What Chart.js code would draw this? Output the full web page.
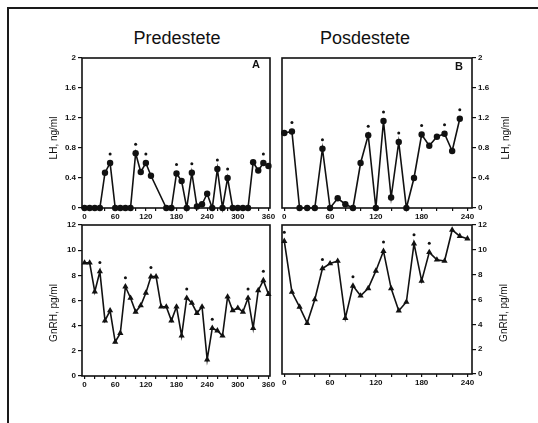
<!DOCTYPE html>
<html>
<head>
<meta charset="utf-8">
<script src="https://cdn.jsdelivr.net/npm/chart.js@4.4.0/dist/chart.umd.min.js"></script>
<style>
body { margin: 0; background: #fff; }
#page { position: relative; width: 538px; height: 423px; overflow: hidden; background: #fff;
        font-family: "Liberation Sans", Arial, sans-serif; color: #111; }
#frame { position: absolute; left: 7px; top: 7px; width: 540px; height: 420px;
         border-top: 2px solid #1a1a1a; border-left: 2px solid #1a1a1a; }
canvas { position: absolute; }
.title { position: absolute; top: 28px; font-size: 18px; transform: translateX(-50%); white-space: nowrap; }
.letter { position: absolute; font-size: 11px; font-weight: bold; }
.ylab { position: absolute; font-size: 10px; white-space: nowrap; transform: translate(-50%, -50%) rotate(-90deg); }
</style>
</head>
<body>
<div id="page">
    <div id="frame"></div>
    <div class="title" style="left:177px">Predestete</div>
    <div class="title" style="left:365px">Posdestete</div>

    <canvas id="lhPreChart" width="250" height="182" style="left:30px;top:48px"></canvas>
    <canvas id="lhPostChart" width="240" height="182" style="left:272px;top:48px"></canvas>
    <canvas id="gnrhPreChart" width="250" height="183" style="left:30px;top:215px"></canvas>
    <canvas id="gnrhPostChart" width="240" height="181" style="left:272px;top:215px"></canvas>

    <div class="letter" style="left:252px;top:58px">A</div>
    <div class="letter" style="left:455px;top:60px">B</div>
    <div class="ylab" style="left:53px;top:138px">LH, ng/ml</div>
    <div class="ylab" style="left:505px;top:138px">LH, ng/ml</div>
    <div class="ylab" style="left:53px;top:313px">GnRH, pg/ml</div>
    <div class="ylab" style="left:503px;top:313px">GnRH, pg/ml</div>
</div>

<script>
(function() {
    'use strict';

    // ===================================
    // Data (minutes / concentrations)
    // ===================================
    const timesPre = [0, 10, 20, 30, 40, 50, 60, 70, 80, 90, 100, 110, 120, 130, 140, 150, 160, 170, 180,
                      190, 200, 210, 220, 230, 240, 250, 260, 270, 280, 290, 300, 310, 320, 330, 340, 350, 360];
    const timesPostLH = [0, 10, 20, 30, 40, 50, 60, 70, 80, 90, 100, 110, 120, 130, 140, 150, 160, 170,
                         180, 190, 200, 210, 220, 230];
    const timesPostGnRH = [0, 10, 20, 30, 40, 50, 60, 70, 80, 90, 100, 110, 120, 130, 140, 150, 160, 170,
                           180, 190, 200, 210, 220, 230, 240];

    // LH, ng/ml (null = no sample)
    const lhPre = [0, 0, 0, 0, 0.47, 0.6, 0, 0, 0, 0, 0.73, 0.48, 0.6, 0.43, null, null, 0, 0, 0.46,
                   0.36, 0, 0.47, 0.02, 0.05, 0.19, 0, 0.52, 0, 0.4, 0, 0, 0, 0, 0.61, 0.5, 0.6, 0.56];
    const lhPost = [1.0, 1.02, 0, 0, 0, 0.79, 0, 0.13, 0.05, 0, 0.6, 0.97, 0, 1.16, 0.14, 0.88, 0, 0.4,
                    0.98, 0.83, 0.95, 0.99, 0.76, 1.19];

    // GnRH, pg/ml
    const gnrhPre = [9.0, 9.0, 6.7, 8.3, 4.4, 5.2, 2.7, 3.4, 7.1, 6.2, 5.1, 5.6, 6.6, 7.9, 7.9, 5.5, 5.5,
                     4.4, 5.5, 3.2, 6.2, 5.8, 5.0, 5.5, 1.3, 3.8, 3.6, 3.2, 6.3, 5.2, 5.4, 5.1, 6.2, 3.8,
                     6.8, 7.6, 6.5];
    const gnrhPost = [10.7, 6.6, 5.4, 4.1, 6.0, 8.5, 8.9, 9.1, 4.5, 7.1, 6.3, 6.9, 8.3, 9.9, 6.9, 5.1,
                      5.8, 10.5, 7.5, 9.8, 9.2, 9.1, 11.6, 11.1, 10.9];

    // Pulses marked with an asterisk (minutes)
    const peaksLhPre = [50, 100, 120, 180, 210, 260, 280, 350];
    const peaksLhPost = [10, 50, 110, 130, 150, 180, 210, 230];
    const peaksGnrhPre = [30, 80, 130, 200, 250, 320, 350];
    const peaksGnrhPost = [0, 50, 90, 130, 170, 190];

    // Tick labels
    const xMinorPre = [0, 20, 40, 60, 80, 100, 120, 140, 160, 180, 200, 220, 240, 260, 280, 300, 320, 340, 360];
    const xLabelsPre = [0, 60, 120, 180, 240, 300, 360];
    const xMinorPost = [0, 20, 40, 60, 80, 100, 120, 140, 160, 180, 200, 220, 240];
    const xLabelsPost = [0, 60, 120, 180, 240];
    const lhTicks = [0, 0.4, 0.8, 1.2, 1.6, 2];
    const gnrhTicks = [0, 2, 4, 6, 8, 10, 12];

    // ===================================
    // Plugins
    // ===================================
    const tickFont = { family: '"Liberation Sans", Arial, sans-serif', size: 8, weight: 'bold' };

    // Frame around the plot area
    const boxPlugin = {
        id: 'box',
        afterDraw(chart) {
            const a = chart.chartArea;
            const ctx = chart.ctx;
            ctx.save();
            ctx.strokeStyle = '#111';
            ctx.lineWidth = 1.6;
            ctx.strokeRect(a.left, a.top, a.right - a.left, a.bottom - a.top);
            ctx.restore();
        }
    };

    // Small asterisk dot above each marked pulse
    const peakPlugin = {
        id: 'peaks',
        afterDatasetsDraw(chart, args, opts) {
            const xs = chart.scales.x;
            const ys = chart.scales.y;
            const data = chart.data.datasets[0].data;
            const ctx = chart.ctx;
            ctx.save();
            ctx.fillStyle = '#111';
            (opts.times || []).forEach(t => {
                const p = data.find(d => d.x === t);
                if (!p || p.y === null) return;
                ctx.beginPath();
                ctx.arc(xs.getPixelForValue(t), ys.getPixelForValue(p.y) - 9, 1.5, 0, Math.PI * 2);
                ctx.fill();
            });
            ctx.restore();
        }
    };

    // ===================================
    // Panel factory
    // ===================================
    function makePanel(canvasId, times, values, cfg) {
        const points = times.map((t, i) => ({ x: t, y: values[i] }));
        return new Chart(document.getElementById(canvasId), {
            type: 'line',
            data: {
                datasets: [{
                    data: points,
                    borderColor: '#111',
                    borderWidth: 1.6,
                    pointStyle: cfg.pointStyle,
                    pointRadius: cfg.pointRadius,
                    pointBackgroundColor: '#111',
                    pointBorderColor: '#111',
                    pointBorderWidth: 0,
                    tension: 0,
                    spanGaps: true,
                    clip: false
                }]
            },
            options: {
                responsive: false,
                animation: false,
                devicePixelRatio: 1,
                layout: { padding: cfg.padding, autoPadding: false },
                plugins: {
                    legend: { display: false },
                    tooltip: { enabled: false },
                    peaks: { times: cfg.peaks }
                },
                scales: {
                    x: {
                        type: 'linear',
                        min: cfg.xMin,
                        max: cfg.xMax,
                        afterFit: s => { s.height = 22; },
                        afterBuildTicks: s => { s.ticks = cfg.xMinor.map(v => ({ value: v })); },
                        ticks: {
                            callback: v => cfg.xLabels.includes(v) ? String(v) : '',
                            font: tickFont,
                            color: '#111',
                            padding: 1,
                            maxRotation: 0,
                            autoSkip: false
                        },
                        grid: { drawOnChartArea: false, tickLength: 3, color: '#111', lineWidth: 1.2 },
                        border: { display: false }
                    },
                    y: {
                        position: cfg.side,
                        min: 0,
                        max: cfg.yMax,
                        afterFit: s => { s.width = cfg.axisWidth; },
                        afterBuildTicks: s => { s.ticks = cfg.yTicks.map(v => ({ value: v })); },
                        ticks: {
                            callback: v => String(v),
                            font: tickFont,
                            color: '#111',
                            padding: 2
                        },
                        grid: { drawOnChartArea: false, tickLength: 4, color: '#111', lineWidth: 1.2 },
                        border: { display: false }
                    }
                }
            },
            plugins: [boxPlugin, peakPlugin]
        });
    }

    // ===================================
    // Charts
    // ===================================
    makePanel('lhPreChart', timesPre, lhPre, {
        pointStyle: 'circle', pointRadius: 3.2, peaks: peaksLhPre,
        xMin: -5, xMax: 363, xMinor: xMinorPre, xLabels: xLabelsPre,
        yMax: 2, yTicks: lhTicks, side: 'left', axisWidth: 52,
        padding: { left: 0, right: 10, top: 10, bottom: 0 }
    });

    makePanel('lhPostChart', timesPostLH, lhPost, {
        pointStyle: 'circle', pointRadius: 3.2, peaks: peaksLhPost,
        xMin: -3, xMax: 246, xMinor: xMinorPost, xLabels: xLabelsPost,
        yMax: 2, yTicks: lhTicks, side: 'right', axisWidth: 40,
        padding: { left: 10, right: 0, top: 10, bottom: 0 }
    });

    makePanel('gnrhPreChart', timesPre, gnrhPre, {
        pointStyle: 'triangle', pointRadius: 3.6, peaks: peaksGnrhPre,
        xMin: -5, xMax: 363, xMinor: xMinorPre, xLabels: xLabelsPre,
        yMax: 12, yTicks: gnrhTicks, side: 'left', axisWidth: 52,
        padding: { left: 0, right: 10, top: 10, bottom: 0 }
    });

    makePanel('gnrhPostChart', timesPostGnRH, gnrhPost, {
        pointStyle: 'triangle', pointRadius: 3.6, peaks: peaksGnrhPost,
        xMin: -3, xMax: 246, xMinor: xMinorPost, xLabels: xLabelsPost,
        yMax: 12, yTicks: gnrhTicks, side: 'right', axisWidth: 40,
        padding: { left: 10, right: 0, top: 10, bottom: 0 }
    });
})();
</script>
</body>
</html>
